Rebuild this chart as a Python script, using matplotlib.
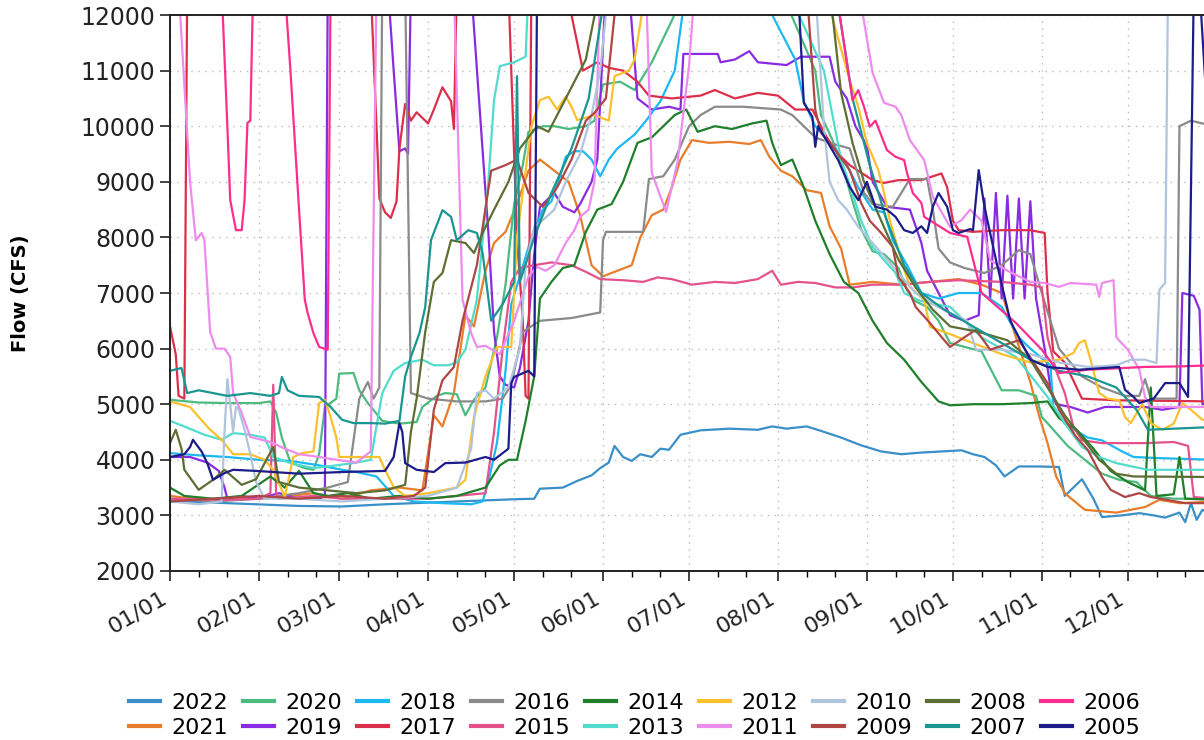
import datetime as dt
import matplotlib
matplotlib.use("Agg")
import matplotlib.pyplot as plt
import matplotlib.dates as mdates

# daily river flow (CFS) by year, as (day of year from Jan 1, flow) pairs
y2022 = [(0, 3260), (15, 3230), (30, 3200), (45, 3170), (60, 3160), (75, 3200), (90, 3230), (105, 3260),
         (120, 3290), (127, 3300), (129, 3480), (137, 3500), (142, 3620), (147, 3720), (150, 3850), (153, 3950),
         (155, 4250), (158, 4050), (161, 3980), (164, 4100), (168, 4050), (171, 4200), (174, 4180), (178, 4450),
         (185, 4530), (195, 4560), (205, 4540), (210, 4600), (215, 4560), (222, 4600), (227, 4520), (234, 4400),
         (241, 4260), (248, 4150), (255, 4100), (262, 4130), (269, 4150), (276, 4170), (280, 4100), (284, 4050),
         (288, 3900), (291, 3700), (296, 3880), (303, 3880), (310, 3870), (312, 3350), (315, 3500), (318, 3650),
         (322, 3300), (325, 2970), (332, 3000), (338, 3040), (343, 3000), (347, 2960), (352, 3050), (354, 2880),
         (356, 3220), (358, 2920), (360, 3100), (364, 3000)]
y2021 = [(0, 3350), (8, 3300), (20, 3280), (31, 3300), (42, 3350), (50, 3400), (60, 3300), (70, 3450),
         (80, 3500), (88, 3450), (92, 4800), (95, 4600), (99, 5200), (103, 6600), (106, 6400), (110, 7400),
         (113, 7900), (117, 8100), (121, 8600), (125, 9200), (129, 9400), (134, 9200), (139, 9000), (143, 8400),
         (147, 7500), (151, 7300), (156, 7400), (161, 7500), (164, 8000), (168, 8400), (172, 8500), (175, 8900),
         (178, 9400), (182, 9750), (188, 9700), (195, 9720), (202, 9680), (206, 9750), (209, 9450), (213, 9200),
         (217, 9100), (222, 8850), (227, 8800), (230, 8200), (234, 7800), (237, 7150), (245, 7200), (255, 7150),
         (265, 7200), (275, 7250), (283, 7150), (290, 7000), (295, 6200), (300, 5400), (303, 4800), (306, 4300),
         (309, 3700), (312, 3400), (319, 3100), (330, 3050), (340, 3150), (345, 3280), (352, 3220), (364, 3250)]
y2020 = [(0, 5080), (10, 5030), (20, 5020), (31, 5020), (35, 5050), (37, 4850), (39, 4400), (42, 3950),
         (47, 3850), (50, 3820), (52, 4100), (54, 4950), (58, 5100), (59, 5550), (64, 5560), (66, 5250),
         (69, 5020), (74, 4700), (80, 4650), (86, 4680), (88, 4950), (93, 5150), (96, 5200), (100, 5180),
         (103, 4800), (106, 5080), (110, 5300), (114, 6200), (117, 7150), (120, 8600), (123, 9300), (125, 9900),
         (130, 10000), (134, 10000), (139, 9950), (145, 10000), (148, 10100), (151, 10750), (157, 10800),
         (162, 10650), (168, 11150), (175, 11900), (180, 12500), (210, 12800), (225, 11000), (227, 10200),
         (231, 9750), (235, 9200), (238, 8650), (241, 8150), (245, 7750), (249, 7700), (254, 7450), (257, 7050),
         (260, 6850), (264, 6750), (268, 6500), (272, 6100), (283, 5950), (290, 5250), (296, 5250), (302, 5150),
         (304, 4770), (307, 4600), (313, 4250), (319, 4000), (325, 3750), (331, 3640), (337, 3600), (342, 3350),
         (350, 3300), (364, 3300)]
y2019 = [(0, 4050), (7, 4050), (13, 3950), (17, 3800), (19, 3500), (20, 3300), (25, 3350), (31, 3300),
         (38, 3400), (45, 3300), (52, 3300), (54, 3350), (55, 12500), (57, 12500), (65, 12500), (76, 12500),
         (78, 11000), (80, 9550), (82, 9600), (83, 9500), (84, 12500), (105, 12500), (111, 8100), (113, 6300),
         (115, 5500), (117, 5350), (120, 5300), (122, 5650), (125, 6500), (127, 7700), (129, 8550), (132, 8700),
         (134, 8800), (137, 8550), (141, 8450), (143, 8600), (147, 9000), (149, 9400), (152, 12500), (160, 12500),
         (163, 10500), (168, 10300), (174, 10350), (178, 10300), (179, 11300), (191, 11300), (192, 11150),
         (197, 11200), (202, 11350), (205, 11150), (215, 11100), (220, 11250), (230, 11250), (232, 10800),
         (236, 10500), (239, 10000), (243, 9650), (245, 9000), (250, 8550), (258, 8500), (262, 7900), (264, 7400),
         (268, 7000), (272, 6600), (277, 6500), (282, 6600), (284, 8700), (286, 6900), (288, 8800), (290, 6900),
         (292, 8750), (294, 6900), (296, 8700), (298, 6900), (300, 8650), (302, 6900), (305, 6000), (307, 5300),
         (309, 5000), (314, 4950), (320, 4850), (326, 4950), (340, 4950), (346, 4900), (352, 4950), (353, 7000),
         (357, 6950), (359, 6700), (360, 5000), (364, 5000)]
y2018 = [(0, 4120), (10, 4080), (20, 4050), (31, 4000), (42, 3980), (52, 3900), (60, 3820), (65, 3780),
         (72, 3700), (78, 3350), (85, 3250), (95, 3220), (105, 3200), (109, 3250), (111, 3600), (114, 4300),
         (117, 5600), (119, 6800), (122, 7300), (126, 8000), (130, 8500), (133, 8650), (136, 9100), (138, 9450),
         (141, 9550), (144, 9550), (147, 9400), (150, 9100), (153, 9400), (156, 9600), (162, 9850), (166, 10100),
         (171, 10450), (176, 11000), (180, 12500), (200, 13000), (218, 11200), (221, 10450), (225, 10000),
         (232, 9600), (236, 9300), (240, 8900), (245, 8500), (249, 8450), (252, 7950), (257, 7500), (262, 7000),
         (268, 6900), (275, 7000), (283, 7000), (290, 6750), (296, 6200), (300, 6000), (307, 5700), (308, 4950),
         (312, 4650), (315, 4550), (320, 4400), (325, 4350), (332, 4150), (336, 4050), (345, 4030), (364, 4000)]
y2017 = [(0, 6400), (2, 5900), (3, 5150), (5, 5100), (6, 12500), (70, 12500), (72, 9990), (73, 8700),
         (75, 8450), (77, 8350), (79, 8650), (80, 9600), (82, 10400), (84, 10100), (86, 10250), (90, 10050),
         (92, 10300), (95, 10700), (98, 10450), (99, 9950), (100, 12500), (118, 12500), (121, 8000), (123, 6500),
         (124, 5150), (125, 5100), (126, 12500), (138, 12500), (144, 11000), (149, 11150), (153, 11050),
         (158, 11000), (163, 10800), (167, 10550), (175, 10500), (185, 10550), (190, 10650), (197, 10500),
         (205, 10600), (212, 10550), (218, 10300), (224, 10300), (229, 9800), (233, 9500), (237, 9300),
         (245, 9030), (249, 8980), (254, 9030), (262, 9030), (269, 9150), (271, 8900), (273, 8300), (275, 8130),
         (280, 8100), (290, 8130), (300, 8130), (305, 8080), (306, 7000), (308, 5950), (312, 5750), (318, 5100),
         (330, 5070), (364, 5050)]
y2016 = [(0, 3300), (15, 3250), (31, 3300), (45, 3400), (55, 3500), (62, 3600), (66, 5100), (69, 5400),
         (71, 5100), (73, 5300), (74, 12500), (82, 12500), (84, 5200), (90, 5100), (100, 5050), (110, 5050),
         (116, 5100), (119, 5350), (123, 6300), (129, 6500), (140, 6550), (150, 6650), (151, 7950), (152, 8100),
         (165, 8100), (167, 9050), (172, 9100), (176, 9400), (181, 10000), (185, 10200), (190, 10350),
         (200, 10350), (213, 10300), (217, 10200), (221, 10000), (225, 9800), (230, 9700), (237, 9600),
         (242, 8800), (245, 8600), (252, 8550), (258, 9050), (264, 9050), (266, 8500), (268, 7800), (272, 7550),
         (277, 7450), (284, 7360), (290, 7500), (296, 7770), (300, 7700), (304, 7000), (310, 6000), (318, 5500),
         (325, 5300), (333, 5150), (338, 5150), (340, 5450), (342, 5100), (351, 5100), (352, 10000),
         (356, 10100), (364, 10000)]
y2015 = [(0, 3300), (20, 3280), (31, 3300), (35, 3400), (36, 5350), (37, 3400), (38, 3300), (50, 3350),
         (60, 3300), (75, 3300), (90, 3300), (100, 3350), (110, 3400), (113, 4500), (116, 6000), (119, 7200),
         (122, 7450), (127, 7500), (133, 7550), (140, 7500), (145, 7380), (150, 7250), (158, 7230), (165, 7200),
         (170, 7280), (175, 7250), (182, 7150), (190, 7200), (197, 7180), (205, 7250), (210, 7400), (213, 7150),
         (219, 7200), (225, 7180), (232, 7100), (238, 7100), (245, 7150), (255, 7150), (265, 7200), (275, 7230),
         (290, 7200), (300, 7150), (304, 7100), (306, 6200), (309, 5600), (312, 5200), (315, 4600), (318, 4350),
         (325, 4300), (340, 4300), (350, 4320), (355, 4250), (357, 3330), (364, 3300)]
y2014 = [(0, 3500), (5, 3350), (15, 3300), (25, 3350), (35, 3700), (40, 3500), (45, 3800), (50, 3400),
         (55, 3350), (62, 3400), (70, 3300), (80, 3350), (90, 3300), (100, 3350), (110, 3500), (115, 3900),
         (118, 4000), (121, 4000), (124, 4700), (127, 5500), (129, 6900), (133, 7200), (137, 7450), (141, 7500),
         (145, 8100), (149, 8500), (154, 8600), (158, 9000), (163, 9700), (168, 9800), (172, 10000),
         (176, 10200), (180, 10300), (184, 9900), (190, 10000), (196, 9950), (203, 10050), (208, 10100),
         (210, 9700), (213, 9300), (217, 9400), (221, 8900), (225, 8300), (230, 7700), (235, 7200), (240, 7000),
         (245, 6500), (250, 6100), (256, 5800), (262, 5400), (268, 5050), (272, 4980), (280, 5000), (290, 5000),
         (300, 5020), (306, 5050), (310, 4750), (316, 4550), (322, 4200), (328, 3800), (334, 3600), (340, 3450),
         (342, 5300), (344, 3350), (350, 3380), (352, 4050), (354, 3300), (364, 3280)]
y2013 = [(0, 4700), (5, 4600), (12, 4450), (18, 4360), (22, 4480), (28, 4450), (33, 4400), (36, 4050),
         (42, 3940), (50, 3850), (58, 3900), (65, 3950), (70, 4000), (74, 5200), (78, 5600), (82, 5740),
         (88, 5800), (92, 5700), (97, 5700), (100, 5750), (103, 5980), (107, 6880), (111, 9000), (113, 10470),
         (115, 11080), (120, 11150), (124, 11250), (125, 12500), (215, 12500), (228, 11000), (234, 9400),
         (238, 8800), (241, 8300), (245, 7830), (249, 7590), (253, 7360), (256, 7000), (261, 6870), (265, 6820),
         (272, 6750), (283, 6200), (295, 5850), (306, 5130), (312, 4660), (318, 4230), (324, 4050), (330, 3940),
         (341, 3820), (364, 3820)]
y2012 = [(0, 5050), (7, 4950), (10, 4770), (14, 4540), (18, 4360), (22, 4100), (28, 4100), (33, 4000),
         (36, 3820), (40, 3330), (43, 4050), (46, 4120), (50, 4150), (52, 5020), (54, 5080), (56, 4770),
         (58, 4400), (59, 4050), (65, 4050), (73, 4050), (75, 3820), (78, 3510), (82, 3350), (90, 3400),
         (100, 3500), (103, 3640), (106, 4770), (110, 5500), (114, 6030), (119, 6030), (121, 8000), (126, 9990),
         (129, 10470), (132, 10530), (135, 10300), (138, 10530), (140, 10350), (142, 10110), (148, 10200),
         (153, 10100), (155, 10900), (160, 11000), (162, 11200), (166, 12500), (228, 12500), (237, 10830),
         (240, 10350), (243, 9700), (247, 9210), (249, 8800), (251, 8310), (255, 7590), (258, 7110), (263, 6870),
         (265, 6390), (270, 6300), (280, 6100), (290, 5900), (300, 5750), (310, 5800), (315, 5920), (317, 6100),
         (319, 6150), (321, 5800), (324, 5200), (327, 5100), (331, 5070), (333, 4770), (335, 4660), (339, 5000),
         (342, 4660), (346, 4540), (350, 4650), (353, 5020), (356, 4900), (360, 4720), (364, 4720)]
y2011 = [(0, 12500), (3, 12500), (7, 9000), (9, 7950), (11, 8080), (12, 7950), (14, 6300), (16, 6000),
         (19, 6000), (21, 5850), (22, 5200), (25, 4840), (28, 4410), (32, 4360), (36, 4300), (40, 4200),
         (45, 4100), (52, 4050), (58, 4000), (65, 3950), (70, 4150), (72, 12500), (99, 12500), (102, 6880),
         (105, 6280), (107, 6030), (110, 6050), (115, 5900), (120, 6500), (125, 7300), (128, 7470), (131, 7400),
         (134, 7500), (138, 7900), (141, 8130), (143, 8370), (146, 8500), (148, 9000), (150, 12500), (166, 12500),
         (168, 9160), (173, 8460), (177, 9360), (181, 11100), (183, 12500), (240, 12500), (245, 10960),
         (249, 10420), (253, 10350), (255, 10200), (258, 9750), (263, 9390), (266, 8730), (270, 8370),
         (272, 8190), (276, 8310), (279, 8500), (283, 8300), (286, 7590), (292, 7400), (300, 7200), (305, 7180),
         (310, 7110), (314, 7180), (323, 7150), (324, 6930), (325, 7180), (329, 7230), (330, 6200), (334, 5980),
         (336, 5800), (338, 5620), (340, 5130), (342, 4950), (350, 4950), (364, 4950)]
y2010 = [(0, 3250), (10, 3200), (18, 3250), (19, 4500), (20, 5450), (21, 5000), (22, 4500), (23, 4950),
         (24, 4900), (26, 4540), (28, 4100), (30, 3600), (33, 3300), (45, 3300), (60, 3250), (75, 3300),
         (90, 3350), (100, 3500), (105, 4200), (107, 5200), (110, 5250), (113, 5100), (118, 5300), (122, 6000),
         (124, 7500), (127, 8190), (130, 8310), (134, 8500), (138, 9000), (143, 9500), (147, 10200),
         (150, 11000), (153, 12500), (225, 12500), (228, 10000), (230, 9000), (233, 8670), (236, 8500),
         (240, 8190), (245, 7900), (250, 7600), (255, 7300), (260, 7000), (266, 6800), (272, 6640), (278, 6500),
         (281, 5980), (290, 5980), (300, 5900), (310, 5750), (320, 5670), (330, 5700), (335, 5800), (340, 5800),
         (344, 5740), (345, 7060), (347, 7180), (348, 12500), (364, 12500)]
y2009 = [(0, 3250), (15, 3300), (31, 3350), (45, 3300), (60, 3350), (75, 3300), (85, 3350), (89, 3500),
         (92, 4900), (95, 5430), (99, 5670), (102, 6500), (107, 7500), (112, 9200), (117, 9300), (121, 9400),
         (125, 8800), (130, 8550), (135, 8900), (140, 9400), (145, 10100), (148, 10240), (152, 10500),
         (156, 12500), (222, 12500), (225, 10300), (227, 9880), (230, 9700), (233, 9500), (237, 9210),
         (241, 8620), (244, 8300), (248, 8080), (252, 7830), (254, 7290), (258, 7000), (260, 6750), (265, 6460),
         (269, 6210), (272, 6030), (281, 6340), (286, 5980), (296, 6150), (306, 5380), (310, 4900), (316, 4410),
         (320, 4180), (325, 3690), (328, 3460), (333, 3330), (338, 3400), (342, 3330), (354, 3220), (364, 3220)]
y2008 = [(0, 4300), (2, 4540), (4, 4200), (5, 3820), (10, 3460), (15, 3640), (19, 3820), (25, 3550),
         (30, 3650), (36, 4230), (38, 3600), (45, 3500), (55, 3450), (65, 3400), (75, 3450), (82, 3550),
         (84, 4500), (86, 5100), (89, 6300), (92, 7200), (95, 7360), (98, 7950), (103, 7900), (106, 7720),
         (109, 8080), (113, 8500), (118, 9000), (122, 9600), (128, 10000), (132, 9900), (136, 10300),
         (140, 10700), (145, 11200), (150, 12500), (230, 12500), (234, 10600), (238, 9700), (242, 9000),
         (248, 8300), (254, 7600), (260, 7100), (266, 6700), (272, 6400), (282, 6300), (292, 6150), (300, 5800),
         (306, 5300), (312, 4800), (318, 4400), (324, 4000), (330, 3750), (336, 3700), (364, 3690)]
y2007 = [(0, 5600), (4, 5650), (6, 5200), (10, 5250), (15, 5200), (20, 5150), (28, 5200), (35, 5150),
         (38, 5200), (39, 5490), (41, 5250), (45, 5150), (52, 5130), (56, 4950), (60, 4720), (64, 4660),
         (70, 4660), (75, 4650), (80, 4700), (82, 5500), (84, 5850), (87, 6280), (89, 6750), (91, 7950),
         (95, 8490), (98, 8370), (100, 7950), (104, 8130), (107, 8080), (109, 7720), (112, 6500), (116, 6800),
         (120, 7200), (121, 10900), (122, 7200), (127, 8000), (133, 8800), (140, 9600), (146, 10500),
         (152, 12500), (232, 12500), (238, 10500), (244, 9300), (250, 8300), (256, 7500), (262, 7000),
         (270, 6700), (280, 6400), (290, 6100), (300, 5800), (310, 5600), (320, 5500), (330, 5300), (337, 4900),
         (341, 4540), (364, 4590)]
y2006 = [(0, 12500), (18, 12500), (20, 10000), (21, 8670), (23, 8130), (25, 8130), (26, 8670), (27, 10060),
         (28, 10100), (29, 12500), (40, 12500), (42, 11000), (45, 8500), (47, 6880), (48, 6640), (50, 6280),
         (52, 6030), (55, 5980), (56, 12500), (232, 12500), (235, 11500), (238, 10470), (240, 10650),
         (242, 10350), (244, 9990), (246, 10100), (250, 9570), (253, 9450), (256, 9390), (257, 9160), (259, 8800),
         (262, 8620), (263, 8370), (272, 8080), (278, 8010), (283, 7000), (295, 6460), (304, 5980), (310, 5560),
         (320, 5620), (340, 5670), (352, 5680), (364, 5700)]
y2005 = [(0, 4050), (5, 4100), (7, 4230), (8, 4360), (11, 4150), (13, 3940), (15, 3640), (19, 3760),
         (22, 3820), (30, 3800), (45, 3750), (60, 3780), (75, 3800), (78, 4050), (80, 4660), (81, 4500),
         (82, 3940), (86, 3820), (92, 3780), (96, 3940), (103, 3950), (110, 4050), (113, 4000), (118, 4200),
         (119, 5380), (120, 5490), (125, 5600), (127, 5500), (128, 12500), (219, 12500), (221, 10420),
         (224, 10170), (225, 9630), (226, 10000), (233, 9390), (237, 8910), (240, 8670), (243, 9000),
         (246, 8550), (250, 8500), (253, 8370), (256, 8130), (259, 8080), (262, 8200), (264, 8080), (266, 8550),
         (268, 8800), (271, 8550), (273, 8130), (275, 8080), (279, 8150), (280, 8130), (282, 9210), (284, 8550),
         (288, 7600), (293, 6500), (300, 5800), (306, 5670), (317, 5620), (331, 5670), (333, 5260), (336, 5130),
         (338, 5020), (343, 5100), (347, 5380), (352, 5380), (355, 5130), (357, 12500), (359, 12500),
         (361, 10800), (364, 10800)]

years = ["2022", "2021", "2020", "2019", "2018", "2017", "2016", "2015", "2014",
         "2013", "2012", "2011", "2010", "2009", "2008", "2007", "2006", "2005"]
series = [y2022, y2021, y2020, y2019, y2018, y2017, y2016, y2015, y2014,
          y2013, y2012, y2011, y2010, y2009, y2008, y2007, y2006, y2005]
colors = ["#3a8fc8", "#e87d2a", "#4dbb7f", "#8a2be2", "#1cb8f0", "#dc2f4c", "#8a8a8a", "#e4528c", "#1f7f2a",
          "#52dccb", "#fbc02d", "#ee8cee", "#b0c4de", "#b04545", "#5d6e35", "#1b9590", "#ff2d8e", "#1c1c8a"]

jan1 = mdates.date2num(dt.datetime(2021, 1, 1))

fig = plt.figure(figsize=(12.04, 7.40), dpi=100)
ax = fig.add_axes([0.1412, 0.2284, 0.8670, 0.7513])

for yr, pts, c in zip(years, series, colors):
    d = [jan1 + p[0] for p in pts]
    q = [p[1] for p in pts]
    ax.plot(d, q, color=c, lw=1.6, label=yr)

ax.set_xlim(jan1, jan1 + 364)
ax.set_ylim(2000, 12000)
ax.set_yticks(range(2000, 12001, 1000))
ax.xaxis.set_major_locator(mdates.MonthLocator())
ax.xaxis.set_minor_locator(mdates.DayLocator(bymonthday=[11, 21]))
ax.xaxis.set_major_formatter(mdates.DateFormatter("%m/%d"))
for lbl in ax.get_xticklabels():
    lbl.set_rotation(30)
    lbl.set_ha("right")

ax.tick_params(axis="both", which="major", direction="out", length=7, width=1.2,
               colors="#222222")
ax.tick_params(axis="y", labelsize=17)
ax.tick_params(axis="x", which="major", labelsize=16, pad=5)
ax.tick_params(axis="x", which="minor", direction="out", length=4, width=1.0)
ax.grid(True, which="major", ls=(0, (1, 4)), color="#bbbbbb", lw=1.0)
for s in ax.spines.values():
    s.set_linewidth(1.4)
    s.set_color("#222222")

ax.set_ylabel("Flow (CFS)", fontsize=14, fontweight="bold")
ax.yaxis.set_label_coords(-0.134, 0.5)

leg = fig.legend(loc="lower center", bbox_to_anchor=(0.527, -0.024), ncol=9, frameon=False,
                 fontsize=16, handlelength=1.4, handletextpad=0.5, columnspacing=0.68,
                 labelspacing=0.22)
for h in leg.get_lines():
    h.set_linewidth(3)

fig.savefig("out.png", dpi=100)
